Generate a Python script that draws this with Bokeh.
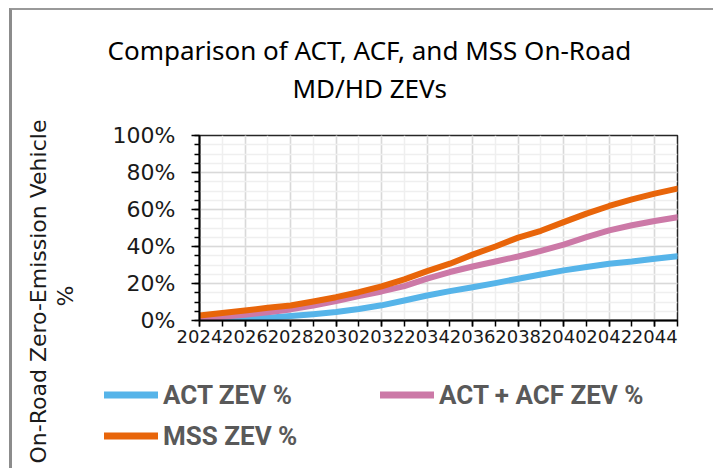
from bokeh.plotting import figure
from bokeh.models import (Range1d, FixedTicker, PrintfTickFormatter, Legend,
                          LegendItem, Title)
from bokeh.embed import file_html
from bokeh.resources import INLINE

# ---- data (percent) ----
years = list(range(2024, 2046))
act_zev = [0.0, 0.3, 0.8, 1.5, 2.4, 3.4, 4.6, 6.2, 8.2, 10.8, 13.5,
           15.9, 18.0, 20.2, 22.6, 24.9, 27.1, 28.9, 30.7, 31.9, 33.4, 34.7]
act_acf_zev = [0.9, 2.0, 3.1, 4.5, 6.0, 8.1, 10.5, 13.2, 15.7, 18.6, 22.6,
               26.2, 29.2, 31.9, 34.6, 37.6, 41.0, 45.1, 48.7, 51.5, 53.8, 55.8]
mss_zev = [2.7, 4.0, 5.4, 6.9, 8.1, 10.3, 12.6, 15.3, 18.4, 22.2, 26.7,
           30.7, 35.6, 40.0, 44.8, 48.5, 53.2, 57.8, 61.9, 65.5, 68.6, 71.3]
series_names = ["ACT ZEV %", "ACT + ACF ZEV %", "MSS ZEV %"]
x_tick_years = list(range(2024, 2045, 2))
y_ticks = [0, 20, 40, 60, 80, 100]
y_minor = list(range(0, 101, 5))

TITLE_1 = "Comparison of ACT, ACF, and MSS On-Road"
TITLE_2 = "MD/HD ZEVs"
YLAB_1 = "On-Road Zero-Emission Vehicle"
YLAB_2 = "%"

colors = ["#56B4E9", "#CC79A7", "#E8650A"]

# ---------------- main chart ----------------
p = figure(width=704, height=460, output_backend="svg", toolbar_location=None,
           x_range=Range1d(2024, 2045), y_range=Range1d(0, 100),
           min_border_left=187, min_border_right=39,
           min_border_top=125, min_border_bottom=150)
p.styles = {"margin-left": "9px", "margin-top": "8px",
            "border-left": "3px solid #8c8c8c",
            "border-top": "2px solid #999999"}
p.background_fill_color = "white"
p.border_fill_color = "white"
p.outline_line_color = "#262626"
p.outline_line_width = 1.5
p.title.visible = False


def title(text, side, **kw):
    p.add_layout(Title(text=text, **kw), side)


# chart title: spacer, then line 2, then line 1 (stacked outward)
title(" ", "above", text_font_size="1px", standoff=27)
title(TITLE_2, "above", align="left", offset=93, standoff=0,
      text_font="Noto Sans", text_font_size="26px", text_font_style="normal",
      text_color="#000000")
title(TITLE_1, "above", align="left", offset=-92, standoff=0,
      text_font="Noto Sans", text_font_size="26px", text_font_style="normal",
      text_color="#000000")

# axes
p.xaxis.ticker = FixedTicker(ticks=x_tick_years, minor_ticks=years)
p.yaxis.ticker = FixedTicker(ticks=y_ticks, minor_ticks=y_minor)
p.yaxis.formatter = PrintfTickFormatter(format="%d%%")
for ax in (p.xaxis[0], p.yaxis[0]):
    ax.axis_line_color = "#000000"
    ax.axis_line_width = 2
    ax.major_tick_line_color = "#000000"
    ax.minor_tick_line_color = "#000000"
    ax.major_tick_line_width = 1.5
    ax.minor_tick_line_width = 1.5
    ax.major_tick_in = 0
    ax.minor_tick_in = 0
    ax.major_label_text_font = "DejaVu Sans"
    ax.major_label_text_color = "#1a1a1a"
p.yaxis.major_tick_out = 8
p.yaxis.minor_tick_out = 5
p.yaxis.major_label_standoff = 16
p.yaxis.major_label_text_font_size = "22px"
p.xaxis.major_tick_out = 6
p.xaxis.minor_tick_out = 6
p.xaxis.major_label_standoff = 3
p.xaxis.major_label_text_font_size = "18px"

# y-axis title: spacer, then "%", then main line (stacked outward)
title(" ", "left", text_font_size="1px", standoff=29)
title(YLAB_2, "left", align="left", offset=14, standoff=0,
      text_font="DejaVu Sans", text_font_size="22px", text_font_style="normal",
      text_color="#1a1a1a")
title(YLAB_1, "left", align="left", offset=-143, standoff=0,
      text_font="DejaVu Sans", text_font_size="22px", text_font_style="normal",
      text_color="#1a1a1a")

# grids
p.xgrid.grid_line_color = "#d9d9d9"
p.xgrid.grid_line_width = 1.5
p.xgrid.minor_grid_line_color = "#efefef"
p.xgrid.minor_grid_line_width = 1.5
p.ygrid.grid_line_color = "#d9d9d9"
p.ygrid.grid_line_width = 1.5
p.ygrid.minor_grid_line_color = "#efefef"
p.ygrid.minor_grid_line_width = 1.5

# series
for vals, c in zip([act_zev, act_acf_zev, mss_zev], colors):
    p.line(years, vals, line_color=c, line_width=6, line_cap="round",
           line_join="round")

# ---------------- legend strip (transparent overlay at the bottom) ----------------
lf = figure(width=704, height=115, output_backend="svg", toolbar_location=None,
            x_range=Range1d(0, 1), y_range=Range1d(0, 1),
            x_axis_type=None, y_axis_type=None,
            min_border_left=0, min_border_right=0,
            min_border_top=0, min_border_bottom=0)
lf.styles = {"margin-left": "12px", "margin-top": "-115px"}
lf.title.visible = False
lf.outline_line_color = None
lf.grid.visible = False
lf.background_fill_alpha = 0
lf.border_fill_alpha = 0

nan = float("nan")
items = []
for n, c in zip(series_names, colors):
    r = lf.line(x=[nan], y=[nan], line_color=c, line_width=7, line_cap="round")
    items.append(LegendItem(label=n, renderers=[r]))

legend = Legend(items=items, location=(92, 16), orientation="horizontal",
                ncols=2, padding=0, margin=0, spacing=8,
                border_line_color=None, background_fill_alpha=0,
                glyph_width=54, glyph_height=33, label_height=33,
                label_width=209, label_standoff=5,
                label_text_font="Roboto",
                label_text_font_style="bold", label_text_font_size="26px",
                label_text_color="#595959", label_text_baseline="middle")
lf.add_layout(legend, "center")

open("out.html", "w").write(file_html([p, lf], INLINE))
